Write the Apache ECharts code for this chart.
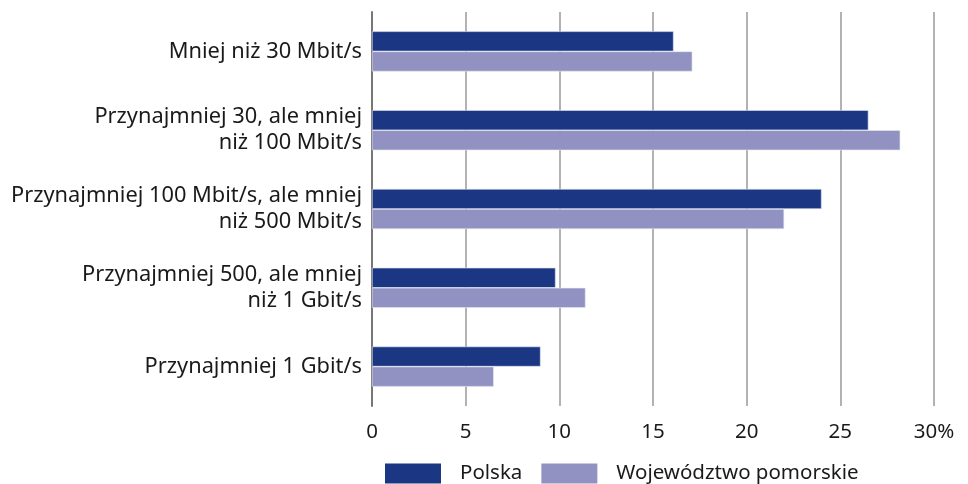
<!DOCTYPE html>
<html>
<head>
<meta charset="utf-8">
<script src="https://cdn.jsdelivr.net/npm/echarts@6/dist/echarts.min.js"></script>
<style>
  html, body { margin: 0; padding: 0; background: #fff; }
  #chart { width: 968px; height: 484px; }
</style>
</head>
<body>
<div id="chart"></div>
<script>
// Categories, top to bottom as drawn.
const categories = [
  'Mniej niż 30 Mbit/s',
  'Przynajmniej 30, ale mniej\nniż 100 Mbit/s',
  'Przynajmniej 100 Mbit/s, ale mniej\nniż 500 Mbit/s',
  'Przynajmniej 500, ale mniej\nniż 1 Gbit/s',
  'Przynajmniej 1 Gbit/s'
];
const polska = [16.1, 26.5, 24.0, 9.8, 9.0];
const pomorskie = [17.1, 28.2, 22.0, 11.4, 6.5];
const seriesNames = ['Polska', 'Województwo pomorskie'];

const font = '"Noto Sans", "Open Sans", sans-serif';

const chart = echarts.init(document.getElementById('chart'), null, {renderer: 'canvas'});

const option = {
  animation: false,
  textStyle: {fontFamily: font},
  grid: {
    left: 372,
    right: 34,
    top: 12,
    bottom: 78
  },
  legend: {
    data: seriesNames,
    left: 380,
    top: 458,
    itemWidth: 56,
    itemHeight: 20,
    itemGap: 19,
    icon: 'rect',
    itemStyle: {borderWidth: 0},
    textStyle: {
      fontFamily: font,
      fontSize: 20.5,
      color: '#1a1a1a',
      padding: [0, 0, 3, 14]
    }
  },
  xAxis: {
    type: 'value',
    min: 0,
    max: 30,
    interval: 5,
    axisLine: {show: false},
    axisTick: {show: false},
    splitLine: {
      lineStyle: {color: '#999', width: 1.5}
    },
    axisLabel: {
      fontFamily: font,
      fontSize: 20.5,
      color: '#1a1a1a',
      margin: 16,
      formatter: function (v) {
        return v === 30 ? '30%' : String(v);
      }
    }
  },
  yAxis: {
    type: 'category',
    inverse: true,
    data: categories,
    axisLine: {
      lineStyle: {color: '#777', width: 2}
    },
    axisTick: {show: false},
    axisLabel: {
      fontFamily: font,
      fontSize: 21.8,
      color: '#1a1a1a',
      margin: 10,
      lineHeight: 26,
      align: 'right'
    }
  },
  series: [
    {
      name: seriesNames[0],
      type: 'bar',
      data: polska,
      barGap: '0%',
      barCategoryGap: '49%',
      itemStyle: {color: '#1b3784', borderColor: '#e6e8f4', borderWidth: 0.6}
    },
    {
      name: seriesNames[1],
      type: 'bar',
      data: pomorskie,
      itemStyle: {color: '#9192c2', borderColor: '#e6e8f4', borderWidth: 0.6}
    }
  ]
};

chart.setOption(option);
</script>
</body>
</html>
